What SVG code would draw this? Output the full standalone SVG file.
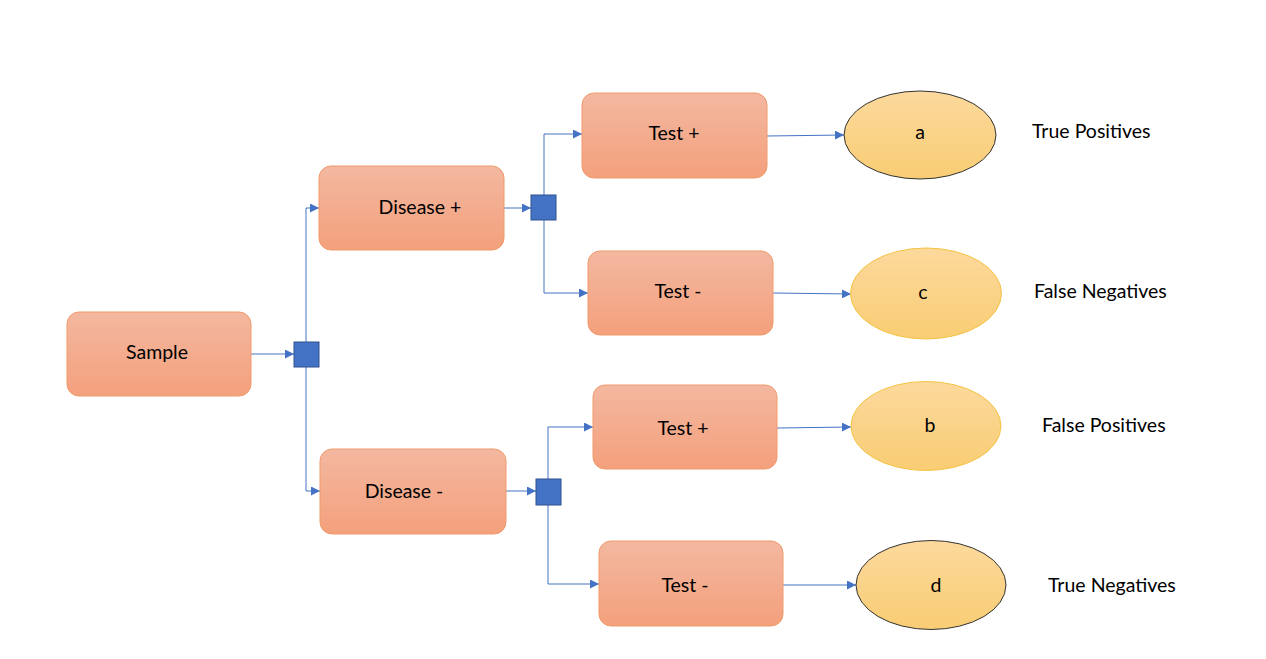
<svg xmlns="http://www.w3.org/2000/svg" width="1266" height="659" viewBox="0 0 1266 659">
<defs>
<linearGradient id="gBox" x1="0" y1="0" x2="0" y2="1">
<stop offset="0" stop-color="#f3b8a0"/>
<stop offset="1" stop-color="#f4a07c"/>
</linearGradient>
<linearGradient id="gEll" x1="0" y1="0" x2="0" y2="1">
<stop offset="0" stop-color="#fcd99d"/>
<stop offset="1" stop-color="#f9cd74"/>
</linearGradient>
<marker id="arr" viewBox="0 0 10 10" refX="10" refY="5" markerWidth="9" markerHeight="9" markerUnits="userSpaceOnUse" orient="auto">
<path d="M0,0 L10,5 L0,10 z" fill="#4472c4"/>
</marker>
<style>
.box{fill:url(#gBox);stroke:#f19a6c;stroke-width:1}
.ell{fill:url(#gEll);stroke-width:1}
.dark{stroke:#333333}
.yel{stroke:#f5c343}
.sq{fill:#4472c4;stroke:#2f528f;stroke-width:1}
.t{font-family:Lato,"Open Sans","Liberation Sans",sans-serif;font-size:19.5px;fill:#000;text-anchor:middle;dominant-baseline:central}
.lab{font-family:Lato,"Open Sans","Liberation Sans",sans-serif;font-size:19.5px;fill:#000;dominant-baseline:central}
.c{fill:none;stroke:#4472c4;stroke-width:1;marker-end:url(#arr)}
</style>
</defs>
<rect width="1266" height="659" fill="#ffffff"/>
<g id="connectors">
<path class="c" d="M251,354 L294,354"/>
<path class="c" d="M306,342 L306,208 L319,208"/>
<path class="c" d="M306,367 L306,491 L320,491"/>
<path class="c" d="M504,208 L531,208"/>
<path class="c" d="M544,195 L544,134 L582,134"/>
<path class="c" d="M544,220 L544,293 L588,293"/>
<path class="c" d="M506,491 L536,491"/>
<path class="c" d="M548,479 L548,427 L593,427"/>
<path class="c" d="M548,505 L548,584 L599,584"/>
<path class="c" d="M767,136 L844,135"/>
<path class="c" d="M773,293 L851,294"/>
<path class="c" d="M777,428 L851,427"/>
<path class="c" d="M783,585 L856,585"/>
</g>
<g id="sample"><rect class="box" x="67" y="312" width="184" height="84" rx="12"/><text class="t" x="157" y="351">Sample</text></g>
<g id="junction1"><rect class="sq" x="294" y="342" width="25" height="25"/></g>
<g id="disease-plus"><rect class="box" x="319" y="166" width="185" height="84" rx="12"/><text class="t" x="420" y="206">Disease +</text></g>
<g id="disease-minus"><rect class="box" x="320" y="449" width="186" height="85" rx="12"/><text class="t" x="404" y="490">Disease -</text></g>
<g id="junction2"><rect class="sq" x="531" y="195" width="25" height="25"/></g>
<g id="junction3"><rect class="sq" x="536" y="479" width="25" height="26"/></g>
<g id="test-plus-1"><rect class="box" x="582" y="93" width="185" height="85" rx="12"/><text class="t" x="674" y="132">Test +</text></g>
<g id="test-minus-1"><rect class="box" x="588" y="251" width="185" height="84" rx="12"/><text class="t" x="678" y="290">Test -</text></g>
<g id="test-plus-2"><rect class="box" x="593" y="385" width="184" height="84" rx="12"/><text class="t" x="683" y="427">Test +</text></g>
<g id="test-minus-2"><rect class="box" x="599" y="541" width="184" height="85" rx="12"/><text class="t" x="685" y="584">Test -</text></g>
<g id="a"><ellipse class="ell dark" cx="920" cy="135" rx="76" ry="44"/><text class="t" x="920" y="131">a</text></g>
<g id="c"><ellipse class="ell yel" cx="926" cy="293.5" rx="75.5" ry="45.5"/><text class="t" x="923" y="291">c</text></g>
<g id="b"><ellipse class="ell yel" cx="926" cy="426" rx="75" ry="44.5"/><text class="t" x="930" y="424">b</text></g>
<g id="d"><ellipse class="ell dark" cx="931" cy="585" rx="75" ry="44.5"/><text class="t" x="936" y="584">d</text></g>
<g id="labels">
<text class="lab" x="1032" y="130">True Positives</text>
<text class="lab" x="1034" y="290">False Negatives</text>
<text class="lab" x="1042" y="424">False Positives</text>
<text class="lab" x="1048" y="584">True Negatives</text>
</g>
</svg>
